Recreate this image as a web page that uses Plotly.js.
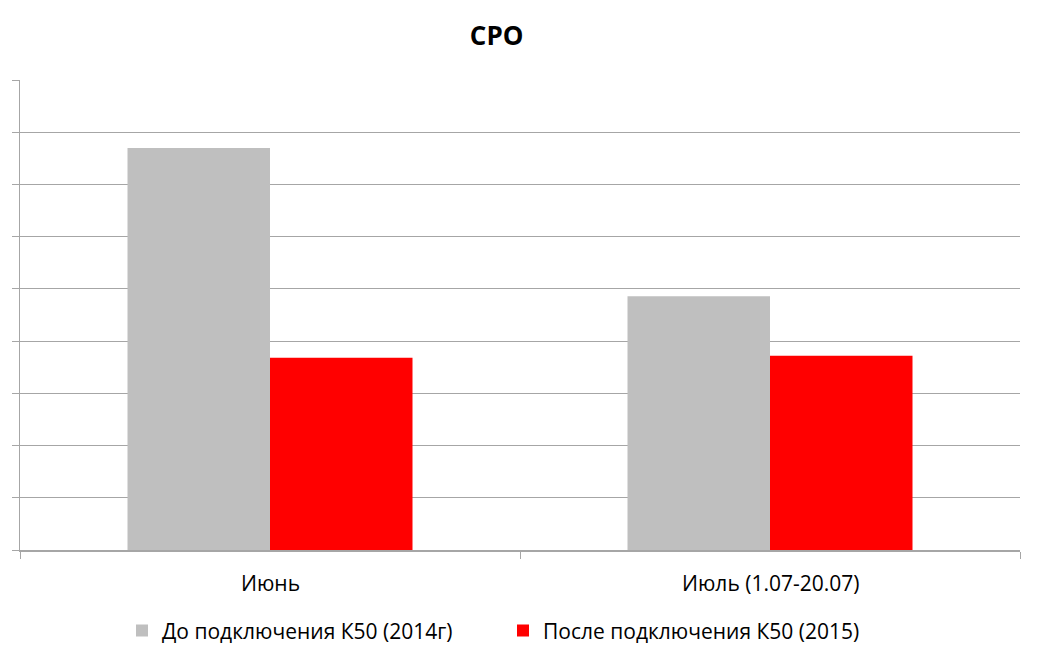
<!DOCTYPE html>
<html><head><meta charset="utf-8">
<script src="https://cdn.plot.ly/plotly-3.0.1.min.js"></script>
<style>body{margin:0;background:#fff}#c{width:1050px;height:659px}</style>
</head><body><div id="c"></div>
<script>
var categories = ["Июнь", "Июль (1.07-20.07)"];
var before2014 = [7.70, 4.86];
var after2015 = [3.68, 3.72];
var seriesNames = ["До подключения К50 (2014г)", "После подключения К50 (2015)"];

var font = "Open Sans, Liberation Sans, sans-serif";
var data = [
  {type:"bar", x:categories, y:before2014, name:seriesNames[0], marker:{color:"#bfbfbf"}},
  {type:"bar", x:categories, y:after2015, name:seriesNames[1], marker:{color:"#ff0000"}}
];
var layout = {
  width:1050, height:659,
  margin:{l:20, r:30, t:80, b:109, autoexpand:false},
  paper_bgcolor:"#fff", plot_bgcolor:"#fff",
  title:{text:"<b>СРО</b>", x:0.473, xanchor:"center", y:0.945, yanchor:"middle", font:{family:font, size:26, color:"#000"}},
  barmode:"group", bargap:0.43, bargroupgap:0,
  xaxis:{showline:true, linecolor:"#a6a6a6", linewidth:1.5, ticks:"outside", ticklen:7, tickcolor:"#a6a6a6",
         tickmode:"array", tickvals:[-0.5,0.5,1.5], ticktext:["","",""], showgrid:false, range:[-0.5,1.5], fixedrange:true},
  yaxis:{range:[0,9], dtick:1, showticklabels:false, showgrid:true, gridcolor:"#a6a6a6", gridwidth:1.2,
         showline:true, linecolor:"#a6a6a6", linewidth:1.5, ticks:"outside", ticklen:7, tickcolor:"#a6a6a6", zeroline:false},
  showlegend:true,
  legend:{orientation:"h", x:0.102, xanchor:"left", y:-0.172, yanchor:"middle", font:{family:font, size:21, color:"#000"},
          itemwidth:30, traceorder:"normal", entrywidth:336, entrywidthmode:"pixels"},
  annotations: categories.map(function(c,i){return {x:i, y:0, xref:"x", yref:"y", yshift:-33, text:c, showarrow:false, font:{family:font, size:21, color:"#000"}};})
};
Plotly.newPlot("c", data, layout, {staticPlot:true});
</script></body></html>
